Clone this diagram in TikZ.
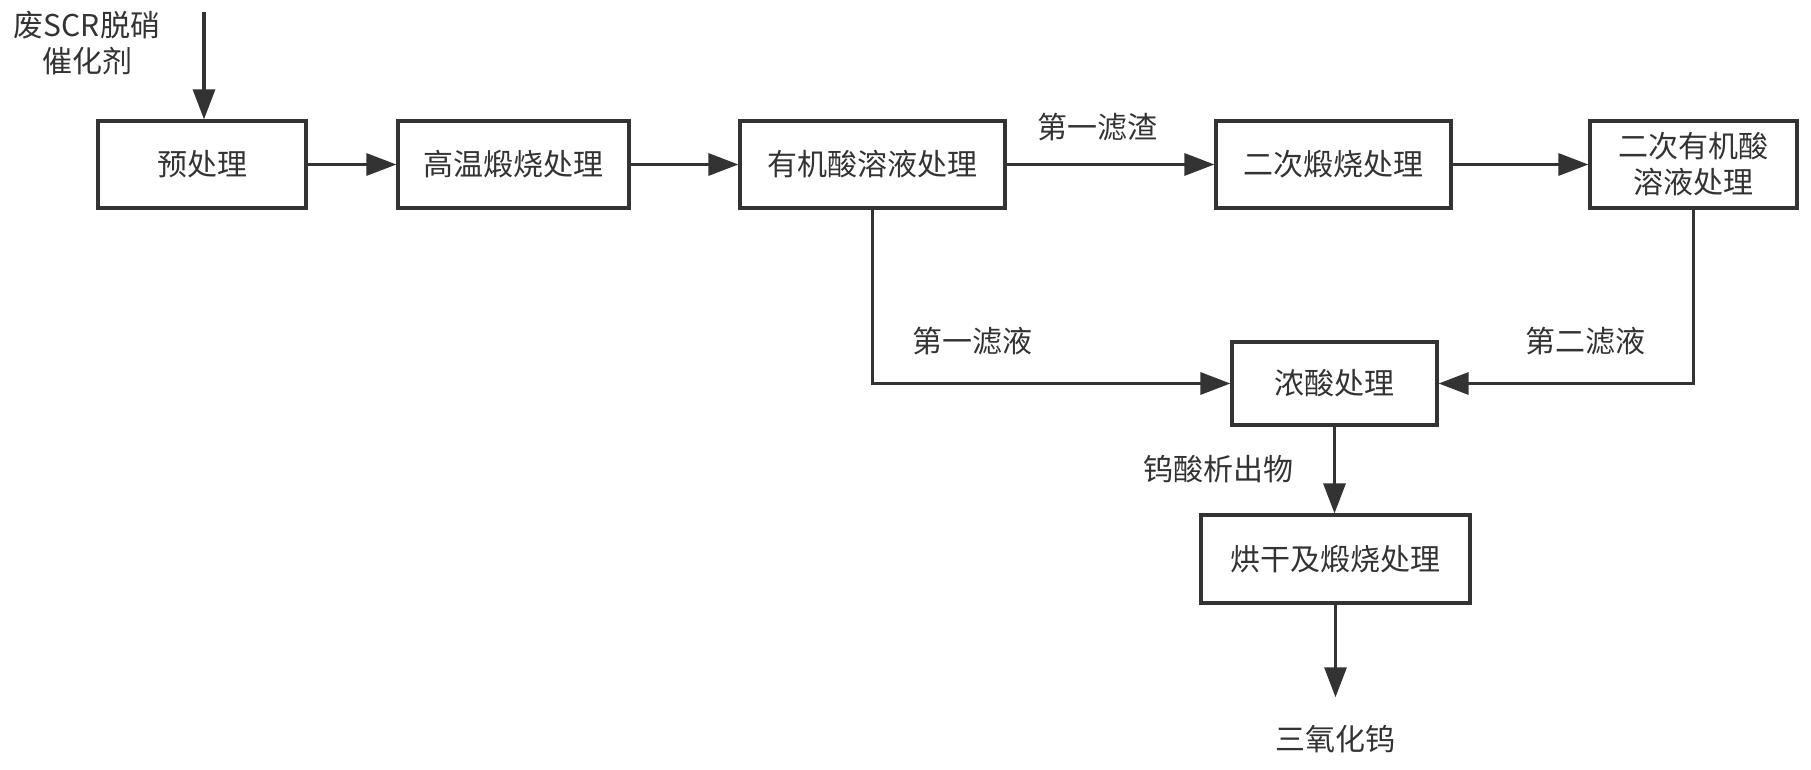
\documentclass[tikz,border=0pt]{standalone}
\usepackage{fontspec}
\setmainfont{Noto Sans CJK SC}
\usetikzlibrary{arrows.meta}
\definecolor{linec}{HTML}{333333}
\definecolor{txtc}{HTML}{333333}
\begin{document}
\begin{tikzpicture}[x=1pt,y=-1pt,
  every node/.style={font=\fontsize{30}{36}\selectfont},
  box/.style={draw=linec, line width=3.2pt, minimum height=87pt, inner sep=0pt, align=center, text=txtc},
  lbl/.style={text=txtc, inner sep=0pt, align=center, text height=23pt, text depth=6pt},
  arr/.style={draw=linec, line width=3.2pt, -{Triangle[length=30pt,width=22pt]}},
  ln/.style={draw=linec, line width=3.2pt}]
\useasboundingbox (0,0) rectangle (1811,770);
\fill[white] (0,0) rectangle (1811,770);
% boxes
\node[box, minimum width=208pt] (a) at (202,164.5) {预处理};
\node[box, minimum width=231pt] (b) at (513.5,164.5) {高温煅烧处理};
\node[box, minimum width=265pt] (c) at (872.5,164.5) {有机酸溶液处理};
\node[box, minimum width=235pt] (d) at (1333.5,164.5) {二次煅烧处理};
\node[box, minimum width=207pt] (e) at (1693.5,164.5) {二次有机酸\\溶液处理};
\node[box, minimum width=205pt, minimum height=83pt] (f) at (1334.5,383.5) {浓酸处理};
\node[box, minimum width=269pt, minimum height=88pt] (g) at (1335.5,559) {烘干及煅烧处理};
\node[lbl] (h) at (1335.5,742) {三氧化钨};
% labels
\node[lbl] (src) at (87,64) {废SCR脱硝\\催化剂};
\node[lbl] (l1) at (1097,130) {第一滤渣};
\node[lbl] (l2) at (972,344) {第一滤液};
\node[lbl] (l3) at (1585,344) {第二滤液};
\node[lbl] (l4) at (1218,472) {钨酸析出物};
% connectors
\coordinate (in) at (204,12);
\draw[arr] (in) -- (in |- a.north);
\draw[arr] (a) -- (b);
\draw[arr] (b) -- (c);
\draw[arr] (c) -- (d);
\draw[arr] (d) -- (e);
\draw[arr] (c.south) |- (f.west);
\draw[arr] (e.south) |- (f.east);
\draw[arr] (f.south) -- (f.south |- g.north);
\draw[arr] (g.south) -- ([yshift=30pt]h.north);
\end{tikzpicture}
\end{document}
